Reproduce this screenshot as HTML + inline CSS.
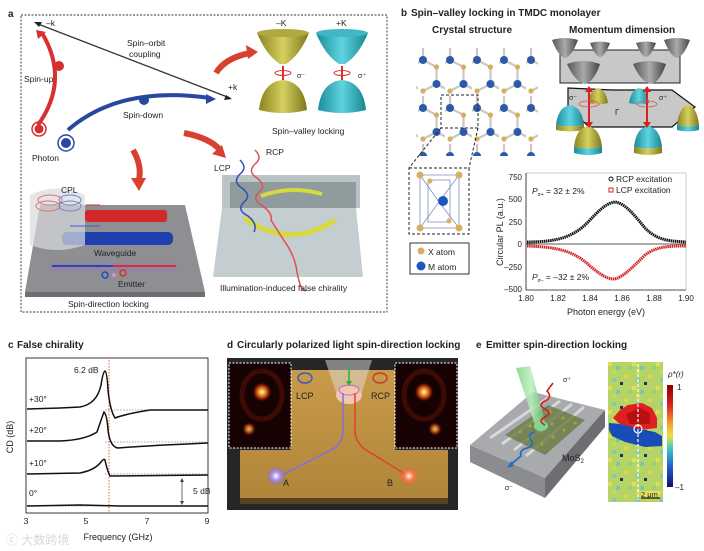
<!DOCTYPE html>
<html><head><meta charset="utf-8"><style>
html,body{margin:0;padding:0;background:#fff}
svg{display:block}
text{font-family:"Liberation Sans Narrow","Liberation Sans",sans-serif;fill:#222}
.t{font-weight:bold;font-size:10px}
.s{font-size:8.5px}
</style></head><body>
<svg width="704" height="551" viewBox="0 0 704 551" xmlns="http://www.w3.org/2000/svg">
<defs>
<linearGradient id="yc" x1="0" x2="1"><stop offset="0" stop-color="#8a8420"/><stop offset=".5" stop-color="#d6cf60"/><stop offset="1" stop-color="#7d7618"/></linearGradient>
<linearGradient id="cc" x1="0" x2="1"><stop offset="0" stop-color="#1b8d9a"/><stop offset=".5" stop-color="#5fd3df"/><stop offset="1" stop-color="#168592"/></linearGradient>
<linearGradient id="gc" x1="0" x2="1"><stop offset="0" stop-color="#555"/><stop offset=".5" stop-color="#aaa"/><stop offset="1" stop-color="#444"/></linearGradient>
<radialGradient id="glowR"><stop offset="0" stop-color="#fff6c0"/><stop offset=".3" stop-color="#f0a030"/><stop offset=".7" stop-color="#8a1a08"/><stop offset="1" stop-color="#1a0303" stop-opacity="0"/></radialGradient>
<radialGradient id="glowA"><stop offset="0" stop-color="#fff"/><stop offset=".4" stop-color="#b090f0"/><stop offset="1" stop-color="#8060d0" stop-opacity="0"/></radialGradient>
<radialGradient id="glowB"><stop offset="0" stop-color="#fff"/><stop offset=".4" stop-color="#ff8050"/><stop offset="1" stop-color="#ff5020" stop-opacity="0"/></radialGradient>
<linearGradient id="gold" x1="0" y1="0" x2="0" y2="1"><stop offset="0" stop-color="#c99a4a"/><stop offset="1" stop-color="#b0863a"/></linearGradient>
<linearGradient id="cbar" x1="0" y1="0" x2="0" y2="1"><stop offset="0" stop-color="#8b0000"/><stop offset=".2" stop-color="#e02020"/><stop offset=".38" stop-color="#f5a030"/><stop offset=".5" stop-color="#e8e040"/><stop offset=".62" stop-color="#40c8c0"/><stop offset=".8" stop-color="#2060d0"/><stop offset="1" stop-color="#101060"/></linearGradient>
<linearGradient id="beam" x1="0" x2="1"><stop offset="0" stop-color="#7fd08a"/><stop offset=".5" stop-color="#b8f0b8"/><stop offset="1" stop-color="#60b870"/></linearGradient>
<pattern id="lat" x="418" y="48" width="27" height="48" patternUnits="userSpaceOnUse">
<path d="M5 12 L5 0 M5 12 L-8 19 M5 12 L18.5 19 M18.5 19 L18.5 36 M18.5 36 L5 43 M18.5 36 L32 43" stroke="#c8c8c8" stroke-width="2.2" fill="none"/>
<circle cx="5" cy="12" r="4" fill="#2c5aa8"/><circle cx="18.5" cy="36" r="4" fill="#2c5aa8"/>
<circle cx="18.5" cy="19" r="2.6" fill="#d8b060"/><circle cx="5" cy="43" r="2.6" fill="#d8b060"/>
</pattern>
<pattern id="noise" x="608" y="362" width="24" height="24" patternUnits="userSpaceOnUse">
<rect width="24" height="24" fill="#b4d468"/><rect x="0" y="0" width="4" height="4" fill="#e0e058"/><rect x="8" y="4" width="4" height="4" fill="#78c8a8"/><rect x="16" y="12" width="4" height="4" fill="#d8d850"/><rect x="4" y="16" width="4" height="4" fill="#88c8b0"/><rect x="12" y="20" width="3" height="3" fill="#1a3060"/><rect x="20" y="4" width="4" height="4" fill="#9cd070"/><rect x="4" y="8" width="4" height="4" fill="#c8dc58"/>
</pattern>
</defs>

<!-- Panel a -->
<text x="8" y="17" class="t">a</text>
<rect x="21" y="15" width="366" height="297" fill="none" stroke="#333" stroke-dasharray="2,1.5" stroke-width="0.9"/>
<line x1="38" y1="24" x2="230" y2="98" stroke="#333" stroke-width="1.3"/>
<path d="M34 22 l8 0 l-3 5z" fill="#222"/><path d="M232 99 l-8 1 l2 -5z" fill="#222"/>
<text x="46" y="26" class="s">–k</text><text x="228" y="90" class="s">+k</text>
<text x="127" y="46" class="s">Spin–orbit</text><text x="129" y="57" class="s">coupling</text>
<path d="M38 125 Q70 80 42 33" stroke="#d83030" stroke-width="4" fill="none"/><path d="M36 30 l10 2 l-8 7z" fill="#d83030"/>
<circle cx="59" cy="66" r="5" fill="#d03030"/>
<text x="24" y="82" class="s">Spin-up</text>
<path d="M68 130 Q120 85 210 98" stroke="#2848a0" stroke-width="4" fill="none"/><path d="M216 99 l-10 -5 l0 10z" fill="#2848a0"/>
<circle cx="144" cy="100" r="5" fill="#2848a0"/>
<text x="123" y="118" class="s">Spin-down</text>
<circle cx="39" cy="129" r="7" fill="none" stroke="#d83030" stroke-width="1.5"/><circle cx="39" cy="129" r="4.5" fill="#d03030"/>
<circle cx="66" cy="143" r="8" fill="none" stroke="#2848a0" stroke-width="1.5"/><circle cx="66" cy="143" r="5" fill="#2848a0"/>
<text x="32" y="161" class="s">Photon</text>
<path d="M216 73 Q225 58 250 53" stroke="#d84030" stroke-width="6" fill="none"/><path d="M258 52 l-12 -7 l2 14z" fill="#d84030"/>
<path d="M133 150 Q142 165 139 180" stroke="#d84030" stroke-width="6" fill="none"/><path d="M139 191 l-8 -13 l15 0z" fill="#d84030"/>
<path d="M184 133 Q210 138 220 150" stroke="#d84030" stroke-width="6" fill="none"/><path d="M226 158 l-14 -4 l10 -9z" fill="#d84030"/>
<path d="M257 33 Q283 27 309 33 Q300 55 286 64 L280 64 Q266 55 257 33z" fill="url(#yc)"/><ellipse cx="283" cy="33" rx="26" ry="4" fill="#b0a840"/>
<path d="M316 33 Q342 27 368 33 Q359 55 345 64 L339 64 Q325 55 316 33z" fill="url(#cc)"/><ellipse cx="342" cy="33" rx="26" ry="4" fill="#40b8c4"/>
<path d="M259 110 Q262 82 283 80 Q304 82 307 110 Q283 116 259 110z" fill="url(#yc)"/>
<path d="M318 110 Q321 82 342 80 Q363 82 366 110 Q342 116 318 110z" fill="url(#cc)"/>
<line x1="283" y1="66" x2="283" y2="80" stroke="#d83030" stroke-width="2"/><ellipse cx="283" cy="73" rx="8" ry="2.5" fill="none" stroke="#d83030"/>
<line x1="342" y1="66" x2="342" y2="80" stroke="#d83030" stroke-width="2"/><ellipse cx="342" cy="73" rx="8" ry="2.5" fill="none" stroke="#d83030"/>
<text x="276" y="26" class="s">–K</text><text x="336" y="26" class="s">+K</text>
<text x="297" y="78" font-size="7">σ⁻</text><text x="358" y="78" font-size="7">σ⁺</text>
<text x="272" y="134" class="s">Spin–valley locking</text>
<path d="M40 205 L185 205 L205 292 L25 292z" fill="#8d8f93"/><path d="M25 292 L205 292 L205 297 L25 297z" fill="#6d6f73"/>
<rect x="85" y="210" width="82" height="12" rx="3" fill="#d42828"/>
<rect x="62" y="232" width="111" height="13" rx="5" fill="#2040b0"/>
<path d="M30 195 Q57 182 85 195 L85 245 Q57 255 30 245z" fill="#d8dadd" opacity=".7"/>
<ellipse cx="50" cy="200" rx="12" ry="5" fill="none" stroke="#e07070"/><ellipse cx="48" cy="206" rx="12" ry="5" fill="none" stroke="#e07070"/>
<ellipse cx="70" cy="200" rx="11" ry="5" fill="none" stroke="#7080d0"/><ellipse cx="70" cy="206" rx="11" ry="5" fill="none" stroke="#7080d0"/>
<line x1="86" y1="205" x2="100" y2="205" stroke="#d83030"/><line x1="70" y1="226" x2="100" y2="226" stroke="#4060c0"/>
<text x="61" y="193" class="s">CPL</text>
<text x="94" y="256" class="s">Waveguide</text>
<rect x="50" y="263" width="127" height="8" rx="4" fill="#9a7ab0" opacity=".6"/>
<line x1="52" y1="266" x2="113" y2="266" stroke="#2848b0" stroke-width="2"/><line x1="113" y1="266" x2="176" y2="266" stroke="#d83030" stroke-width="2"/>
<circle cx="105" cy="275" r="3" fill="none" stroke="#2848b0" stroke-width="1.5"/><circle cx="114" cy="275" r="2" fill="#d090d0"/><circle cx="123" cy="273" r="3" fill="none" stroke="#d83030" stroke-width="1.5"/>
<text x="118" y="287" class="s">Emitter</text>
<text x="68" y="307" class="s">Spin-direction locking</text>
<path d="M222 175 L360 175 L360 208 L222 208z" fill="#b8c4c6"/>
<path d="M230 182 L356 182 L356 208 L230 208z" fill="#8f9b9c"/>
<path d="M222 208 L356 208 L363 277 L213 277z" fill="#c4cdcf"/>
<path d="M261 196 Q290 185 322 194" stroke="#d8d840" stroke-width="4" fill="none"/>
<path d="M244 218 Q290 250 335 220" stroke="#d8d840" stroke-width="5" fill="none"/>
<path d="M240 160 q8 8 0 14 q-8 8 2 14 q10 8 2 14 q-8 8 4 14 q10 8 6 16" stroke="#3050b8" stroke-width="1.5" fill="none"/>
<path d="M255 150 q8 8 0 14 q-8 8 2 14 q10 8 2 14 q-8 8 4 14 q10 8 8 14 q6 10 14 22 q10 14 12 30 q4 22 10 18" stroke="#e05050" stroke-width="1.5" fill="none"/>
<text x="266" y="155" class="s">RCP</text><text x="214" y="171" class="s">LCP</text>
<text x="220" y="291" class="s">Illumination-induced false chirality</text>

<!-- Panel b -->
<text x="401" y="16" class="t">b</text>
<text x="411" y="16" class="t">Spin–valley locking in TMDC monolayer</text>
<text x="432" y="33" class="t" font-size="9.5">Crystal structure</text>
<text x="569" y="33" class="t" font-size="9.5">Momentum dimension</text>
<rect x="416" y="46" width="122" height="110" fill="url(#lat)"/>
<rect x="441" y="95" width="37" height="33" fill="none" stroke="#222" stroke-dasharray="3,2"/>
<line x1="441" y1="128" x2="409" y2="168" stroke="#222" stroke-dasharray="3,2"/><line x1="478" y1="128" x2="469" y2="168" stroke="#222" stroke-dasharray="3,2"/>
<rect x="409" y="168" width="60" height="66" fill="none" stroke="#222" stroke-dasharray="3,2"/>
<path d="M420 175 L459 175 L459 228 L420 228z M420 175 L439 202 L459 228 M459 175 L439 202 L420 228 M428 180 L450 180 L450 222 L428 222z" fill="none" stroke="#8090c0" stroke-width=".8"/>
<circle cx="420" cy="175" r="3.5" fill="#d8b060"/><circle cx="459" cy="175" r="3.5" fill="#d8b060"/><circle cx="420" cy="228" r="3.5" fill="#d8b060"/><circle cx="459" cy="228" r="3.5" fill="#d8b060"/><circle cx="430" cy="181" r="2.5" fill="#d8b060"/><circle cx="449" cy="221" r="2.5" fill="#d8b060"/>
<circle cx="443" cy="201" r="5" fill="#1e56c0"/>
<rect x="410" y="243" width="59" height="31" fill="#fff" stroke="#333"/>
<circle cx="421" cy="251" r="3.5" fill="#d8b060"/><text x="428" y="255" class="s">X atom</text>
<circle cx="421" cy="266" r="4.5" fill="#1e56c0"/><text x="428" y="270" class="s">M atom</text>
<path d="M560 50 L680 50 L680 83 L560 83z" fill="#c8c8c8" stroke="#222"/>
<path d="M568 88 L612 90 L672 90 L695 107 L672 127 L589 127 L568 107z" fill="#c8c8c8" stroke="#111" stroke-width="1.2"/>
<path d="M552 40 Q565 36 578 40 Q572 56 565 58 Q558 56 552 40z" fill="url(#gc)"/><path d="M590 43 Q600 40 610 43 Q605 56 600 57 Q595 56 590 43z" fill="url(#gc)"/>
<path d="M636 43 Q646 40 656 43 Q651 56 646 57 Q641 56 636 43z" fill="url(#gc)"/><path d="M664 40 Q677 36 690 40 Q684 56 677 58 Q670 56 664 40z" fill="url(#gc)"/>
<path d="M567 64 Q583 58 600 64 Q594 82 585 84 Q575 82 567 64z" fill="url(#gc)"/><path d="M633 64 Q649 58 666 64 Q660 82 651 84 Q641 82 633 64z" fill="url(#gc)"/>
<path d="M588 103 Q590 90 598 88 Q606 90 608 103 Q598 106 588 103z" fill="url(#yc)"/><path d="M629 103 Q631 90 639 88 Q647 90 649 103 Q639 106 629 103z" fill="url(#cc)"/>
<path d="M556 125 Q558 107 570 105 Q582 107 584 125 Q570 128 556 125z" fill="url(#cc)"/><path d="M556 130 Q570 133 584 130 L584 125 Q570 128 556 125z" fill="url(#yc)"/>
<path d="M677 125 Q679 107 688 105 Q697 107 699 125 Q688 128 677 125z" fill="url(#yc)"/><path d="M677 130 Q688 133 699 130 L699 125 Q688 128 677 125z" fill="url(#cc)"/>
<path d="M574 147 Q576 128 588 126 Q600 128 602 147 Q588 150 574 147z" fill="url(#yc)"/><path d="M574 153 Q588 157 602 153 L602 147 Q588 150 574 147z" fill="url(#cc)"/>
<path d="M634 147 Q636 128 648 126 Q660 128 662 147 Q648 150 634 147z" fill="url(#cc)"/><path d="M634 153 Q648 157 662 153 L662 147 Q648 150 634 147z" fill="url(#yc)"/>
<line x1="589" y1="90" x2="589" y2="125" stroke="#d82020" stroke-width="2"/><path d="M589 86 l-4 6 l8 0z M589 128 l-4 -6 l8 0z" fill="#d82020"/>
<line x1="647" y1="90" x2="647" y2="125" stroke="#d82020" stroke-width="2"/><path d="M647 86 l-4 6 l8 0z M647 128 l-4 -6 l8 0z" fill="#d82020"/>
<ellipse cx="589" cy="104" rx="10" ry="3" fill="none" stroke="#e05050" stroke-width=".8"/><ellipse cx="647" cy="104" rx="10" ry="3" fill="none" stroke="#e05050" stroke-width=".8"/>
<text x="569" y="100" font-size="7">σ⁻</text><text x="659" y="100" font-size="7">σ⁺</text><text x="615" y="115" font-size="8">Γ</text>
<rect x="526" y="173" width="160" height="117" fill="none" stroke="#aaa" stroke-width=".6"/>
<line x1="526" y1="244" x2="686" y2="244" stroke="#222" stroke-width=".8"/>
<line x1="526" y1="173" x2="526" y2="290" stroke="#222" stroke-width=".8"/><line x1="526" y1="290" x2="686" y2="290" stroke="#222" stroke-width=".8"/>
<g font-size="8" text-anchor="end"><text x="522" y="180">750</text><text x="522" y="202">500</text><text x="522" y="225">250</text><text x="522" y="247">0</text><text x="522" y="270">–250</text><text x="522" y="292">–500</text></g>
<g font-size="8" text-anchor="middle"><text x="526" y="301">1.80</text><text x="558" y="301">1.82</text><text x="590" y="301">1.84</text><text x="622" y="301">1.86</text><text x="654" y="301">1.88</text><text x="686" y="301">1.90</text></g>
<text x="606" y="315" font-size="9" text-anchor="middle">Photon energy (eV)</text>
<text transform="translate(503,232) rotate(-90)" font-size="9" text-anchor="middle">Circular PL (a.u.)</text>
<path d="M527 242 C560 242 575 236 590 220 C602 207 608 203 615 202 C624 203 632 212 645 228 C658 241 670 241 686 242" stroke="#111" stroke-width="3" fill="none" stroke-dasharray="1.5,.6"/>
<path d="M527 246 C560 247 575 252 590 266 C602 276 608 279 614 279 C622 278 632 268 645 255 C657 246 670 246 686 246" stroke="#d82020" stroke-width="3" fill="none" stroke-dasharray="1.5,.6"/>
<text x="532" y="194" font-size="8.5"><tspan font-style="italic">P</tspan><tspan font-size="5" dy="2">σ+</tspan><tspan dy="-2"> = 32 ± 2%</tspan></text>
<text x="532" y="280" font-size="8.5"><tspan font-style="italic">P</tspan><tspan font-size="5" dy="2">σ–</tspan><tspan dy="-2"> = –32 ± 2%</tspan></text>
<circle cx="611" cy="179" r="2" fill="none" stroke="#111"/><text x="616" y="182" font-size="8.5">RCP excitation</text>
<rect x="609" y="188" width="4" height="4" fill="none" stroke="#d82020"/><text x="616" y="193" font-size="8.5">LCP excitation</text>

<!-- Panel c -->
<text x="8" y="348" class="t">c</text><text x="17" y="348" class="t">False chirality</text>
<rect x="26" y="358" width="182" height="155" fill="none" stroke="#222" stroke-width=".9"/>
<line x1="109" y1="360" x2="109" y2="512" stroke="#e06040" stroke-dasharray="1.5,1.5"/>
<g stroke="#888" stroke-dasharray="1.5,1.5" stroke-width=".7"><line x1="105" y1="410" x2="208" y2="410"/><line x1="105" y1="442" x2="208" y2="442"/><line x1="105" y1="474" x2="208" y2="474"/><line x1="26" y1="506" x2="208" y2="506"/></g>
<g stroke="#111" stroke-width="1.5" fill="none">
<path d="M27 409 L60 408 L80 407 Q97 404 101 385 Q103 372 105 371 Q107 372 108 390 Q110 410 115 418 Q125 414 150 410 L208 410"/>
<path d="M27 441 L60 441 Q85 440 97 432 Q101 420 104 412 Q107 415 108 430 Q110 447 118 448 Q140 446 208 443"/>
<path d="M27 474 L80 473 Q95 470 101 462 Q104 458 105 460 Q107 470 110 476 L208 475"/>
<path d="M27 506 L80 505 L120 506 L208 506"/>
</g>
<line x1="182" y1="480" x2="182" y2="503" stroke="#444" stroke-width=".8"/><path d="M182 478 l-2 4 l4 0z M182 505 l-2 -4 l4 0z" fill="#444"/>
<text x="193" y="494" font-size="8.5">5 dB</text>
<text x="74" y="373" font-size="8.5">6.2 dB</text>
<g font-size="8.5"><text x="29" y="402">+30°</text><text x="29" y="433">+20°</text><text x="29" y="466">+10°</text><text x="29" y="496">0°</text></g>
<text transform="translate(13,437) rotate(-90)" font-size="9" text-anchor="middle">CD (dB)</text>
<g font-size="8.5" text-anchor="middle"><text x="26" y="524">3</text><text x="86" y="524">5</text><text x="147" y="524">7</text><text x="207" y="524">9</text></g>
<text x="118" y="540" font-size="9" text-anchor="middle">Frequency (GHz)</text>
<text x="6" y="544" font-size="12" style="fill:#d8d8d8">ⓒ 大数跨境</text>

<!-- Panel d -->
<text x="227" y="348" class="t">d</text><text x="237" y="348" class="t">Circularly polarized light spin-direction locking</text>
<rect x="227" y="358" width="231" height="152" fill="#262626"/>
<path d="M291 370 L395 370 L395 450 L448 450 L448 498 L240 498 L240 450 L291 450z" fill="url(#gold)"/>
<rect x="240" y="498" width="208" height="6" fill="#5a4020"/>
<path d="M325 360 L372 360 L360 398 L338 398z" fill="#ddd" opacity=".5"/>
<ellipse cx="349" cy="395" rx="13" ry="9" fill="#f0c8b0"/><ellipse cx="349" cy="390" rx="10" ry="5" fill="none" stroke="#d060d0"/>
<line x1="349" y1="365" x2="349" y2="382" stroke="#30b030" stroke-width="1.5"/><path d="M349 386 l-3 -5 l6 0z" fill="#30b030"/>
<path d="M343 393 L343 432 Q343 440 335 448 L280 476" stroke="#8070e0" stroke-width="1.5" fill="none"/>
<path d="M355 393 L355 432 Q355 440 363 448 L408 476" stroke="#e04030" stroke-width="1.5" fill="none"/>
<circle cx="276" cy="476" r="10" fill="url(#glowA)"/><circle cx="409" cy="476" r="10" fill="url(#glowB)"/>
<ellipse cx="305" cy="378" rx="7" ry="5" fill="none" stroke="#3050c0" stroke-width="1.3"/><ellipse cx="380" cy="378" rx="7" ry="5" fill="none" stroke="#c03030" stroke-width="1.3"/>
<text x="296" y="399" font-size="9">LCP</text><text x="371" y="399" font-size="9">RCP</text>
<text x="283" y="486" font-size="9">A</text><text x="387" y="486" font-size="9">B</text>
<rect x="229" y="363" width="62" height="85" fill="#160202" stroke="#fff" stroke-dasharray="2,1.5"/>
<circle cx="262" cy="392" r="10" fill="url(#glowR)"/><circle cx="249" cy="429" r="7" fill="url(#glowR)" opacity=".8"/><ellipse cx="262" cy="395" rx="20" ry="24" fill="none" stroke="#5a1008" stroke-width="5" opacity=".6"/>
<rect x="395" y="363" width="62" height="85" fill="#160202" stroke="#fff" stroke-dasharray="2,1.5"/>
<circle cx="424" cy="392" r="10" fill="url(#glowR)"/><circle cx="435" cy="429" r="7" fill="url(#glowR)" opacity=".8"/><ellipse cx="424" cy="395" rx="20" ry="24" fill="none" stroke="#5a1008" stroke-width="5" opacity=".6"/>

<!-- Panel e -->
<text x="476" y="348" class="t">e</text><text x="486" y="348" class="t">Emitter spin-direction locking</text>
<path d="M470 445 L533 392 L605 410 L545 478z" fill="#a8aaad"/>
<path d="M470 445 L545 478 L545 498 L470 462z" fill="#8a8c90"/><path d="M545 478 L605 410 L605 427 L545 498z" fill="#6c6e72"/>
<g stroke="#d8d8d8" stroke-width="3"><line x1="490" y1="438" x2="548" y2="398"/><line x1="502" y1="444" x2="560" y2="401"/><line x1="514" y1="450" x2="572" y2="404"/><line x1="526" y1="456" x2="584" y2="407"/></g>
<path d="M505 435 L548 405 L585 420 L545 455z" fill="#6a7a40" opacity=".8"/>
<g fill="#9aa840"><circle cx="520" cy="432" r="1.6"/><circle cx="530" cy="426" r="1.6"/><circle cx="540" cy="419" r="1.6"/><circle cx="550" cy="412" r="1.6"/><circle cx="530" cy="438" r="1.6"/><circle cx="541" cy="431" r="1.6"/><circle cx="552" cy="424" r="1.6"/><circle cx="563" cy="418" r="1.6"/><circle cx="542" cy="444" r="1.6"/><circle cx="553" cy="437" r="1.6"/><circle cx="564" cy="430" r="1.6"/><circle cx="575" cy="423" r="1.6"/></g>
<path d="M516 368 L530 366 L546 425 L536 428z" fill="url(#beam)" opacity=".85"/><ellipse cx="541" cy="426" rx="7" ry="5" fill="#80d890"/>
<path d="M545 425 q-8 -4 0 -8 q8 -4 0 -8 q-8 -4 0 -8 q8 -4 2 -10 l6 -8" stroke="#d02020" stroke-width="1.6" fill="none"/>
<path d="M535 432 q-8 2 -4 8 q4 6 -4 8 q-8 2 -6 8 l-12 10" stroke="#2070c0" stroke-width="1.8" fill="none"/><path d="M507 468 l4 -7 l3 5z" fill="#2070c0"/>
<text x="563" y="382" font-size="7">σ⁺</text><text x="505" y="490" font-size="7">σ⁻</text>
<text x="562" y="461" font-size="9">MoS<tspan font-size="6" dy="2">2</tspan></text>
<rect x="608" y="362" width="55" height="140" fill="url(#noise)"/>
<path d="M613 418 L620 410 L628 405 L642 403 L652 408 L657 418 L657 428 L640 430 L620 424z" fill="#e02020"/>
<path d="M626 414 L640 408 L650 413 L650 424 L630 424z" fill="#b81010"/>
<path d="M609 423 L620 424 L640 429 L655 432 L662 436 L662 446 L645 447 L625 442 L612 436 L609 430z" fill="#1a4cb8"/>
<line x1="638" y1="364" x2="638" y2="500" stroke="#fff" stroke-width="1.2" stroke-dasharray="3,2"/>
<circle cx="638" cy="429" r="4" fill="none" stroke="#fff" stroke-width="1.2"/>
<rect x="641" y="491" width="19" height="7" fill="#e8e060"/><line x1="641" y1="498" x2="660" y2="498" stroke="#111" stroke-width="1.2"/>
<text x="641" y="497" font-size="7.5">2 μm</text>
<rect x="667" y="385" width="6" height="102" fill="url(#cbar)"/>
<text x="668" y="377" font-size="8" font-style="italic">ρ*(r)</text>
<text x="677" y="390" font-size="8">1</text><text x="675" y="490" font-size="8">–1</text>
</svg>
</body></html>
